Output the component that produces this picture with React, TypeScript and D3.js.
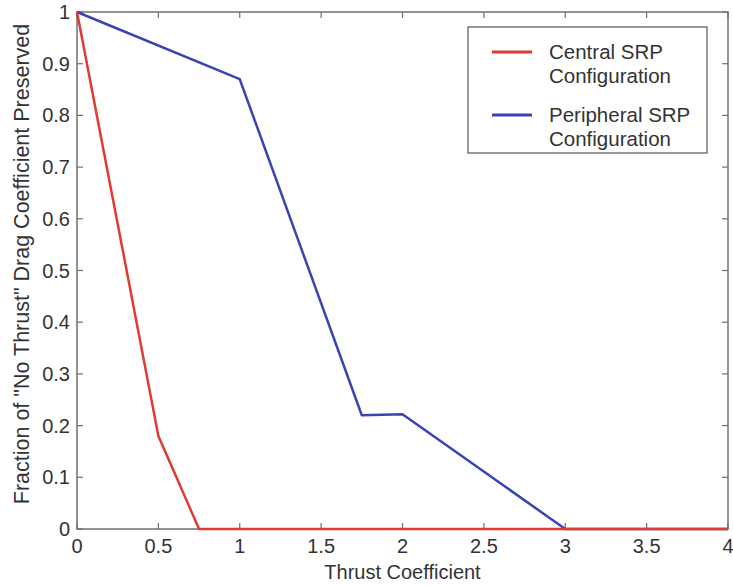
import React, { useEffect, useRef } from 'react';
import * as d3 from 'd3';

// data
const centralX = [0, 0.5, 0.75, 4];
const centralY = [1, 0.18, 0, 0];
const peripheralX = [0, 1, 1.75, 2, 3, 4];
const peripheralY = [1, 0.87, 0.22, 0.222, 0, 0];
const xTicks = [0, 0.5, 1, 1.5, 2, 2.5, 3, 3.5, 4];
const yTicks = [0, 0.1, 0.2, 0.3, 0.4, 0.5, 0.6, 0.7, 0.8, 0.9, 1];
const seriesNames = ['Central SRP\nConfiguration', 'Peripheral SRP\nConfiguration'];
const seriesColors = ['#df3b32', '#3944b4'];

const W = 733;
const H = 586;
const FONT = "'Liberation Sans', Arial, sans-serif";

const App = () => {
    const svgRef = useRef<SVGSVGElement>(null);

    useEffect(() => {
        const svg = d3.select(svgRef.current);
        svg.selectAll('*').remove();

        const x = d3.scaleLinear().domain([0, 4]).range([77, 728]);
        const y = d3.scaleLinear().domain([0, 1]).range([529, 12]);
        const axisColor = '#707070';
        const textColor = '#333';
        const tickLen = 6;

        // series lines
        const line = d3.line<[number, number]>()
            .x(d => x(d[0]))
            .y(d => y(d[1]));

        const series = [
            d3.zip(peripheralX, peripheralY) as [number, number][],
            d3.zip(centralX, centralY) as [number, number][],
        ];
        const colors = [seriesColors[1], seriesColors[0]];

        // frame
        svg.append('rect')
            .attr('x', x(0)).attr('y', y(1))
            .attr('width', x(4) - x(0)).attr('height', y(0) - y(1))
            .attr('fill', 'none')
            .attr('stroke', axisColor)
            .attr('stroke-width', 1.5);

        // ticks on all four sides
        const tg = svg.append('g').attr('stroke', axisColor).attr('stroke-width', 1.2);
        xTicks.forEach(t => {
            tg.append('line').attr('x1', x(t)).attr('x2', x(t)).attr('y1', y(0)).attr('y2', y(0) - tickLen);
            tg.append('line').attr('x1', x(t)).attr('x2', x(t)).attr('y1', y(1)).attr('y2', y(1) + tickLen);
        });
        yTicks.forEach(t => {
            tg.append('line').attr('x1', x(0)).attr('x2', x(0) + tickLen).attr('y1', y(t)).attr('y2', y(t));
            tg.append('line').attr('x1', x(4)).attr('x2', x(4) - tickLen).attr('y1', y(t)).attr('y2', y(t));
        });

        series.forEach((s, i) => {
            svg.append('path')
                .datum(s)
                .attr('d', line)
                .attr('fill', 'none')
                .attr('stroke', colors[i])
                .attr('stroke-width', 2.5)
                .attr('stroke-linejoin', 'round');
        });

        // tick labels
        const labels = svg.append('g')
            .style('font-family', FONT)
            .style('font-size', '20px')
            .attr('fill', textColor);

        xTicks.forEach(t => {
            labels.append('text')
                .attr('x', x(t))
                .attr('y', 553)
                .attr('text-anchor', 'middle')
                .text(String(t));
        });
        yTicks.forEach(t => {
            labels.append('text')
                .attr('x', 70)
                .attr('y', y(t) + 7)
                .attr('text-anchor', 'end')
                .text(String(t));
        });

        // axis titles
        svg.append('text')
            .attr('x', (x(0) + x(4)) / 2)
            .attr('y', 579)
            .attr('text-anchor', 'middle')
            .style('font-family', FONT)
            .style('font-size', '20px')
            .attr('fill', textColor)
            .text('Thrust Coefficient');

        svg.append('text')
            .attr('transform', `translate(29,264) rotate(-90)`)
            .attr('text-anchor', 'middle')
            .style('font-family', FONT)
            .style('font-size', '21.5px')
            .attr('fill', textColor)
            .text('Fraction of "No Thrust" Drag Coefficient Preserved');

        // legend
        const lg = svg.append('g');
        lg.append('rect')
            .attr('x', 468).attr('y', 27)
            .attr('width', 239).attr('height', 126)
            .attr('fill', '#fff')
            .attr('stroke', '#555')
            .attr('stroke-width', 1.2);

        seriesNames.forEach((name, i) => {
            const ly = 52 + i * 63;
            lg.append('line')
                .attr('x1', 492).attr('x2', 532)
                .attr('y1', ly).attr('y2', ly)
                .attr('stroke', seriesColors[i])
                .attr('stroke-width', 3);
            name.split('\n').forEach((part, j) => {
                lg.append('text')
                    .attr('x', 549)
                    .attr('y', ly + 7 + j * 24)
                    .style('font-family', FONT)
                    .style('font-size', '20.5px')
                    .attr('fill', textColor)
                    .text(part);
            });
        });
    }, []);

    return (
        <svg
            ref={svgRef}
            width={W}
            height={H}
            style={{ position: 'absolute', left: 0, top: 0, background: '#fff' }}
        />
    );
};

export default App;
